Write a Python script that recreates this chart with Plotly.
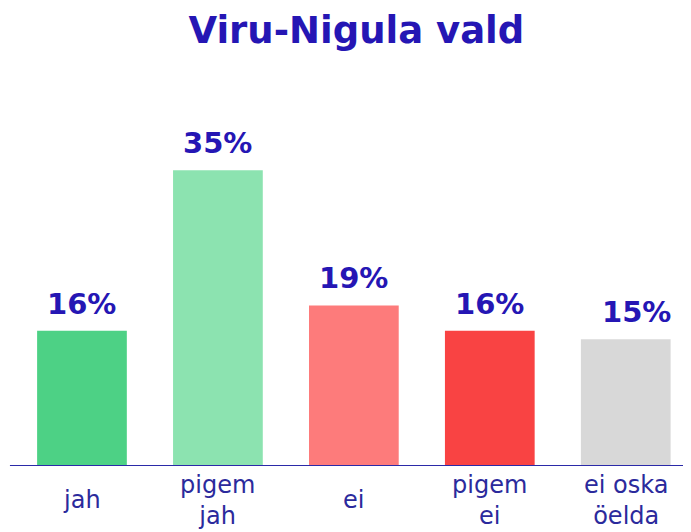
import plotly.graph_objects as go

categories = ["jah", "pigem jah", "ei", "pigem ei", "ei oska öelda"]
tick_labels = ["jah", "pigem<br>jah", "ei", "pigem<br>ei", "ei oska<br>öelda"]
values = [16, 35, 19, 16, 15]
value_labels = ["16%", "35%", "19%", "16%", "15%"]
colors = ["#4dd185", "#8ce3b0", "#fd7b7b", "#f94343", "#d8d8d8"]
title_text = "Viru-Nigula vald"

BLUE = "#2516b4"
LABEL_BLUE = "#2b2a9c"
FONT = "DejaVu Sans"

fig = go.Figure()
fig.add_trace(go.Bar(
    x=categories, y=values, marker=dict(color=colors, line=dict(width=0)),
    width=0.66, hoverinfo="skip",
))

label_xshift = [0, 0, 0, 0, 11]
for c, v, t, dx in zip(categories, values, value_labels, label_xshift):
    fig.add_annotation(x=c, y=v, xref="x", yref="y", text=t, showarrow=False,
                       yanchor="bottom", yshift=8, xshift=dx,
                       font=dict(family=FONT, size=29, color=BLUE, weight="bold"))
for c, t in zip(categories, tick_labels):
    fig.add_annotation(x=c, y=0, xref="x", yref="y", text=t, showarrow=False,
                       yanchor="middle", yshift=-34,
                       font=dict(family=FONT, size=24, color=LABEL_BLUE))

fig.update_layout(
    width=683, height=524,
    margin=dict(l=6, r=0, t=92, b=66),
    paper_bgcolor="white", plot_bgcolor="white",
    showlegend=False,
    title=dict(text=title_text, x=0.51, xanchor="center", y=0.957, yanchor="middle",
               yref="container",
               font=dict(family=FONT, size=37, color=BLUE, weight="bold")),
    xaxis=dict(showticklabels=False, showgrid=False, zeroline=False,
               showline=False, range=[-0.5, 4.48], fixedrange=True),
    yaxis=dict(range=[0, 43.3], showticklabels=False, showgrid=False,
               zeroline=False, showline=False, fixedrange=True),
)
fig.add_shape(type="line", xref="paper", yref="y", x0=-0.006, x1=1, y0=0, y1=0,
              line=dict(color="#2b2aa8", width=2))

fig.write_html("out.html")
